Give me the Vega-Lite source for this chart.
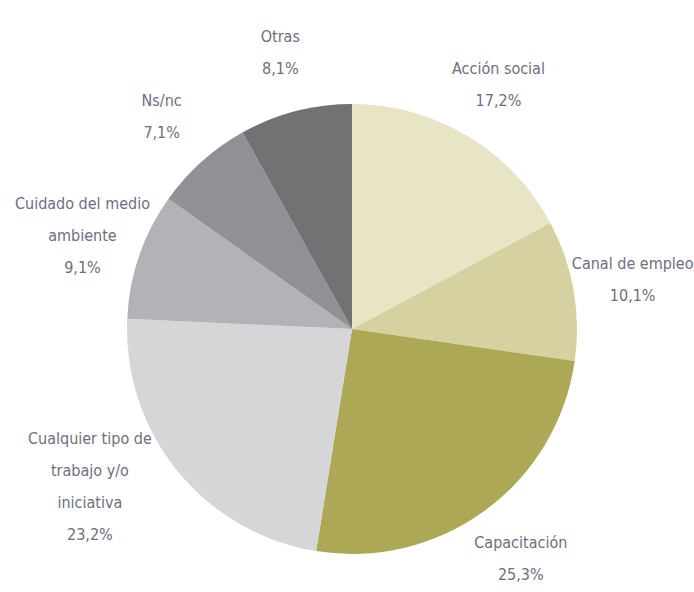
{
  "$schema": "https://vega.github.io/schema/vega-lite/v6.json",
  "width": 684,
  "height": 526,
  "autosize": {"type": "none"},
  "padding": {"left": 10, "top": 66, "right": 0, "bottom": 0},
  "background": "white",
  "view": {"stroke": null},
  "config": {
    "text": {"font": "DejaVu Sans Condensed, Roboto, sans-serif", "fontSize": 16, "lineBreak": "\n", "lineHeight": 32, "align": "center", "baseline": "middle", "color": "#6e6e80"}
  },
  "data": {
    "values": [
      {"order": 1, "category": "Acción social", "value": 17.2, "label": "Acción social\n17,2%"},
      {"order": 2, "category": "Canal de empleo", "value": 10.1, "label": "Canal de empleo\n10,1%"},
      {"order": 3, "category": "Capacitación", "value": 25.3, "label": "Capacitación\n25,3%"},
      {"order": 4, "category": "Cualquier tipo de trabajo y/o iniciativa", "value": 23.2, "label": "Cualquier tipo de\ntrabajo y/o\niniciativa\n23,2%"},
      {"order": 5, "category": "Cuidado del medio ambiente", "value": 9.1, "label": "Cuidado del medio\nambiente\n9,1%"},
      {"order": 6, "category": "Ns/nc", "value": 7.1, "label": "Ns/nc\n7,1%"},
      {"order": 7, "category": "Otras", "value": 8.1, "label": "Otras\n8,1%"}
    ]
  },
  "encoding": {
    "theta": {"field": "value", "type": "quantitative", "stack": true},
    "order": {"field": "order", "type": "quantitative"},
    "color": {
      "field": "category",
      "type": "nominal",
      "scale": {
        "domain": ["Acción social", "Canal de empleo", "Capacitación", "Cualquier tipo de trabajo y/o iniciativa", "Cuidado del medio ambiente", "Ns/nc", "Otras"],
        "range": ["#e8e5c7", "#d5d1a0", "#ada855", "#d6d6d8", "#b3b3b7", "#919195", "#727275"]
      },
      "legend": null
    }
  },
  "layer": [
    {"mark": {"type": "arc", "outerRadius": 225}},
    {
      "mark": {"type": "text", "radius": 285, "dy": -16},
      "encoding": {
        "color": {"value": "#6e6e80"},
        "text": {"condition": {"test": "datum.order !== 4 && datum.order !== 5", "field": "label"}, "value": ""}
      }
    },
    {
      "mark": {"type": "text", "radius": 285, "dy": -32},
      "encoding": {
        "color": {"value": "#6e6e80"},
        "text": {"condition": {"test": "datum.order === 5", "field": "label"}, "value": ""}
      }
    },
    {
      "mark": {"type": "text", "radius": 285, "dx": -41, "dy": -70},
      "encoding": {
        "color": {"value": "#6e6e80"},
        "text": {"condition": {"test": "datum.order === 4", "field": "label"}, "value": ""}
      }
    }
  ]
}
